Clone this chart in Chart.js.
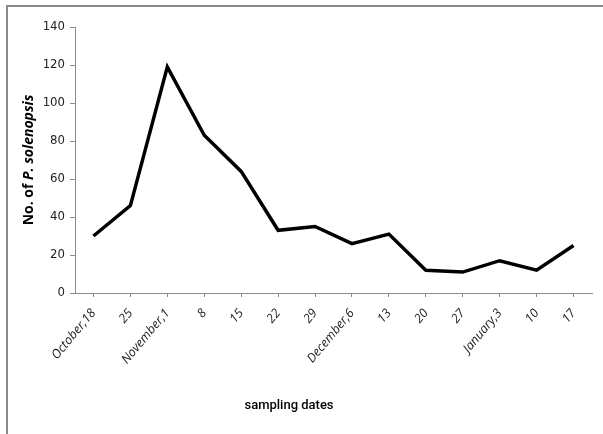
<!DOCTYPE html>
<html>
<head>
<meta charset="utf-8">
<script src="https://cdn.jsdelivr.net/npm/chart.js@4"></script>
<style>
  html, body { margin: 0; padding: 0; background: #fff; }
  #wrap { position: relative; width: 603px; height: 434px; overflow: hidden; }
  #frame { position: absolute; left: 6px; top: 5px; width: 700px; height: 500px;
           border-left: 2px solid #8c8c8c; border-top: 2px solid #8c8c8c; }
  canvas { position: absolute; left: 0; top: 0; }
</style>
</head>
<body>
<div id="wrap">
  <div id="frame"></div>
  <canvas id="lineChart" width="603" height="434"></canvas>
</div>
<script>
// sampling dates (x axis)
var dates = ["October,18", "25", "November,1", "8", "15", "22", "29",
             "December,6", "13", "20", "27", "January,3", "10", "17"];
// number of P. solenopsis per sampling date
var counts = [30, 46, 119, 83, 64, 33, 35, 26, 31, 12, 11, 17, 12, 25];

var yTitleA = "No. of ";
var yTitleB = "P. solenopsis";
var xTitle = "sampling dates";

// draw the axis titles by hand (mixed bold / italic text)
const axisTitles = {
  id: "axisTitles",
  afterDraw(chart) {
    const ctx = chart.ctx;
    const area = chart.chartArea;
    ctx.save();
    ctx.fillStyle = "#000";
    ctx.textBaseline = "middle";

    // y title, rotated
    const fa = "bold 14px 'Open Sans', 'Liberation Sans', sans-serif";
    const fb = "italic bold 14px 'Open Sans', 'Liberation Sans', sans-serif";
    ctx.font = fa;
    const wa = ctx.measureText(yTitleA).width;
    ctx.font = fb;
    const wb = ctx.measureText(yTitleB).width;
    ctx.translate(29, (area.top + area.bottom) / 2);
    ctx.rotate(-Math.PI / 2);
    ctx.textAlign = "left";
    ctx.font = fa;
    ctx.fillText(yTitleA, -(wa + wb) / 2, 0);
    ctx.font = fb;
    ctx.fillText(yTitleB, -(wa + wb) / 2 + wa, 0);
    ctx.restore();

    // x title
    ctx.save();
    ctx.fillStyle = "#000";
    ctx.textAlign = "center";
    ctx.textBaseline = "middle";
    ctx.font = "500 13px Roboto, 'Liberation Sans', sans-serif";
    ctx.fillText(xTitle, 289, 406);
    ctx.restore();
  }
};

function createLineChart() {
  const ctx = document.getElementById("lineChart").getContext("2d");

  new Chart(ctx, {
    type: "line",
    data: {
      labels: dates,
      datasets: [
        {
          data: counts,
          fill: false,
          borderColor: "#000",
          borderWidth: 3.5,
          pointRadius: 0,
          tension: 0,
        },
      ],
    },
    options: {
      responsive: false,
      animation: false,
      layout: {
        padding: { left: 0, top: 27, right: 11, bottom: 0 },
      },
      plugins: {
        legend: { display: false },
        tooltip: { enabled: false },
      },
      scales: {
        x: {
          offset: true,
          afterFit: (scale) => { scale.height = 141; },
          border: { color: "#8c8c8c", width: 1 },
          grid: {
            offset: false,
            drawOnChartArea: false,
            drawTicks: true,
            tickLength: 4,
            color: "#8c8c8c",
          },
          ticks: {
            autoSkip: false,
            minRotation: 50,
            maxRotation: 50,
            color: "#222",
            padding: 9,
            font: { family: "'Open Sans', 'Liberation Sans', sans-serif", size: 12.5, style: "italic" },
          },
        },
        y: {
          min: 0,
          max: 140,
          afterFit: (scale) => { scale.width = 75; },
          border: { color: "#8c8c8c", width: 1 },
          grid: {
            drawOnChartArea: false,
            drawTicks: true,
            tickLength: 5,
            color: "#8c8c8c",
          },
          ticks: {
            stepSize: 20,
            color: "#222",
            padding: 5,
            font: { family: "'DejaVu Sans Condensed', 'Liberation Sans', sans-serif", size: 13 },
          },
        },
      },
    },
    plugins: [axisTitles],
  });
}

createLineChart();
</script>
</body>
</html>
